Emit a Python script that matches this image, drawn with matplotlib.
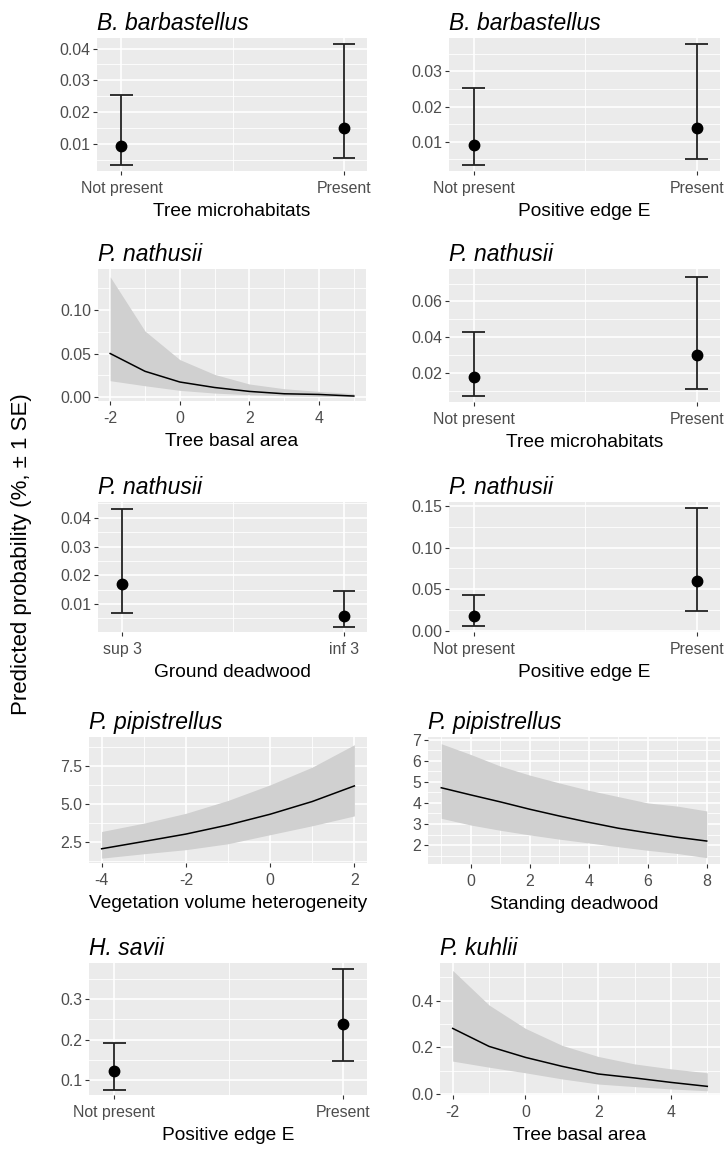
import numpy as np
import matplotlib
matplotlib.use("Agg")
import matplotlib.pyplot as plt
from matplotlib.ticker import MultipleLocator

plt.rcParams['font.family'] = ['Liberation Sans', 'DejaVu Sans']
plt.rcParams['axes.unicode_minus'] = False

# ---------------- data ----------------
cat_present = ["Not present", "Present"]
cat_deadwood = ["sup 3", "inf 3"]

bb_micro_fit = [0.0094, 0.0150]
bb_micro_lo = [0.0036, 0.0056]
bb_micro_hi = [0.0255, 0.0413]

bb_edge_fit = [0.0091, 0.0140]
bb_edge_lo = [0.0035, 0.0050]
bb_edge_hi = [0.0252, 0.0379]

pn_micro_fit = [0.0174, 0.0298]
pn_micro_lo = [0.0069, 0.0112]
pn_micro_hi = [0.0430, 0.0739]

pn_ground_fit = [0.0169, 0.0059]
pn_ground_lo = [0.0069, 0.0020]
pn_ground_hi = [0.0431, 0.0144]

pn_edge_fit = [0.0175, 0.0601]
pn_edge_lo = [0.0056, 0.0239]
pn_edge_hi = [0.0425, 0.1476]

hs_edge_fit = [0.123, 0.238]
hs_edge_lo = [0.077, 0.148]
hs_edge_hi = [0.191, 0.374]

pn_basal_x = [-2, -1, 0, 1, 2, 3, 4, 5]
pn_basal_fit = [0.050, 0.0296, 0.0173, 0.011, 0.0065, 0.0038, 0.0030, 0.0012]
pn_basal_lo = [0.0188, 0.013, 0.0077, 0.0046, 0.0027, 0.0015, 0.0008, 0.0004]
pn_basal_hi = [0.138, 0.0758, 0.043, 0.026, 0.015, 0.0096, 0.0065, 0.004]

pp_veg_x = [-4, -3, -2, -1, 0, 1, 2]
pp_veg_fit = [2.06, 2.54, 3.03, 3.63, 4.34, 5.18, 6.21]
pp_veg_lo = [1.44, 1.73, 2.00, 2.39, 2.99, 3.58, 4.23]
pp_veg_hi = [3.20, 3.75, 4.40, 5.25, 6.28, 7.45, 8.93]

pp_stand_x = [-1, 0, 1, 2, 3, 4, 5, 6, 7, 8]
pp_stand_fit = [4.72, 4.38, 4.05, 3.70, 3.38, 3.08, 2.80, 2.58, 2.37, 2.19]
pp_stand_lo = [3.27, 2.95, 2.70, 2.48, 2.28, 2.10, 1.92, 1.75, 1.60, 1.40]
pp_stand_hi = [6.81, 6.30, 5.75, 5.32, 4.95, 4.60, 4.30, 4.00, 3.85, 3.62]

pk_basal_x = [-2, -1, 0, 1, 2, 3, 4, 5]
pk_basal_fit = [0.281, 0.204, 0.157, 0.119, 0.086, 0.069, 0.050, 0.033]
pk_basal_lo = [0.141, 0.115, 0.091, 0.065, 0.043, 0.032, 0.022, 0.014]
pk_basal_hi = [0.529, 0.381, 0.281, 0.209, 0.161, 0.129, 0.108, 0.091]

# ---------------- figure ----------------
W, H = 725, 1149
fig = plt.figure(figsize=(W / 100, H / 100), dpi=100)
fig.patch.set_facecolor('white')

def add_panel(x0, y0, x1, y1):
    return fig.add_axes([x0 / W, 1 - y1 / H, (x1 - x0) / W, (y1 - y0) / H])

def style(ax, title, xlabel, ymaj, ylim, xmaj=None, xmin=None):
    ax.set_facecolor('#EBEBEB')
    for s in ax.spines.values():
        s.set_visible(False)
    ax.yaxis.set_major_locator(MultipleLocator(ymaj))
    ax.yaxis.set_minor_locator(MultipleLocator(ymaj / 2))
    if xmaj is not None:
        ax.xaxis.set_major_locator(MultipleLocator(xmaj))
        ax.xaxis.set_minor_locator(MultipleLocator(xmin))
    ax.set_ylim(*ylim)
    ax.grid(True, which='major', color='white', lw=1.2)
    ax.grid(True, which='minor', color='white', lw=0.6)
    ax.set_axisbelow(True)
    ax.tick_params(which='major', length=3, width=0.8, color='#333333',
                   labelsize=11.4, labelcolor='#4D4D4D', pad=2)
    ax.tick_params(axis='x', which='major', pad=4.5)
    ax.tick_params(which='minor', length=0)
    ax.set_title(title, loc='left', fontsize=16.5, style='italic', pad=6)
    ax.set_xlabel(xlabel, fontsize=13.8, labelpad=4.5)

def cat_panel(ax, cats, fit, lo, hi):
    x = np.arange(1, len(cats) + 1)
    ax.vlines(x, lo, hi, color='#222222', lw=1.3, zorder=3)
    for xi, l, h in zip(x, lo, hi):
        ax.hlines([l, h], xi - 0.05, xi + 0.05, color='#222222', lw=1.3, zorder=3)
    ax.plot(x, fit, 'o', color='black', ms=7.5, zorder=4)
    ax.set_xticks(x)
    ax.set_xticklabels(cats)
    ax.set_xlim(0.89, len(cats) + 0.105)

def cont_panel(ax, x, fit, lo, hi):
    ax.fill_between(x, lo, hi, color='#D0D0D0', lw=0, zorder=2)
    ax.plot(x, fit, color='black', lw=1.1, zorder=3)
    pad = (max(x) - min(x)) * 0.05
    ax.set_xlim(min(x) - pad, max(x) + pad)

# Row 1
ax = add_panel(97, 38, 367, 171)
cat_panel(ax, cat_present, bb_micro_fit, bb_micro_lo, bb_micro_hi)
style(ax, "B. barbastellus", "Tree microhabitats", 0.01, (0.00164, 0.0433))
ax.set_xticks([1.5], minor=True)

ax = add_panel(449, 38, 720, 171)
cat_panel(ax, cat_present, bb_edge_fit, bb_edge_lo, bb_edge_hi)
style(ax, "B. barbastellus", "Positive edge E", 0.01, (0.00171, 0.0395))
ax.set_xticks([1.5], minor=True)

# Row 2
ax = add_panel(98, 269, 366, 401)
cont_panel(ax, pn_basal_x, pn_basal_fit, pn_basal_lo, pn_basal_hi)
style(ax, "P. nathusii", "Tree basal area", 0.05, (-0.0045, 0.147), 2, 1)

ax = add_panel(449, 269, 720, 402)
cat_panel(ax, cat_present, pn_micro_fit, pn_micro_lo, pn_micro_hi)
style(ax, "P. nathusii", "Tree microhabitats", 0.02, (0.00366, 0.0782))
ax.set_xticks([1.5], minor=True)

# Row 3
ax = add_panel(98, 502, 367, 632)
cat_panel(ax, cat_deadwood, pn_ground_fit, pn_ground_lo, pn_ground_hi)
style(ax, "P. nathusii", "Ground deadwood", 0.01, (0.0003, 0.0455))
ax.set_xticks([1.5], minor=True)

ax = add_panel(449, 502, 720, 632)
cat_panel(ax, cat_present, pn_edge_fit, pn_edge_lo, pn_edge_hi)
style(ax, "P. nathusii", "Positive edge E", 0.05, (-0.0015, 0.155))
ax.set_xticks([1.5], minor=True)

# Row 4
ax = add_panel(89, 737, 367, 863)
cont_panel(ax, pp_veg_x, pp_veg_fit, pp_veg_lo, pp_veg_hi)
style(ax, "P. pipistrellus", "Vegetation volume heterogeneity", 2.5, (1.12, 9.44), 2, 1)
ax.set_xlim(-4.3, 2.3)

ax = add_panel(428, 737, 720, 864)
cont_panel(ax, pp_stand_x, pp_stand_fit, pp_stand_lo, pp_stand_hi)
style(ax, "P. pipistrellus", "Standing deadwood", 1, (1.1, 7.13), 2, 1)

# Row 5
ax = add_panel(89, 963, 367, 1095)
cat_panel(ax, cat_present, hs_edge_fit, hs_edge_lo, hs_edge_hi)
style(ax, "H. savii", "Positive edge E", 0.1, (0.0637, 0.389))
ax.set_xticks([1.5], minor=True)

ax = add_panel(440, 963, 720, 1095)
cont_panel(ax, pk_basal_x, pk_basal_fit, pk_basal_lo, pk_basal_hi)
style(ax, "P. kuhlii", "Tree basal area", 0.2, (-0.004, 0.561), 2, 1)

fig.text(22 / W, 1 - 554 / H, "Predicted probability (%, \u00b1 1 SE)", rotation=90,
         ha='center', va='center', fontsize=16)

fig.savefig("out.png", dpi=100)
